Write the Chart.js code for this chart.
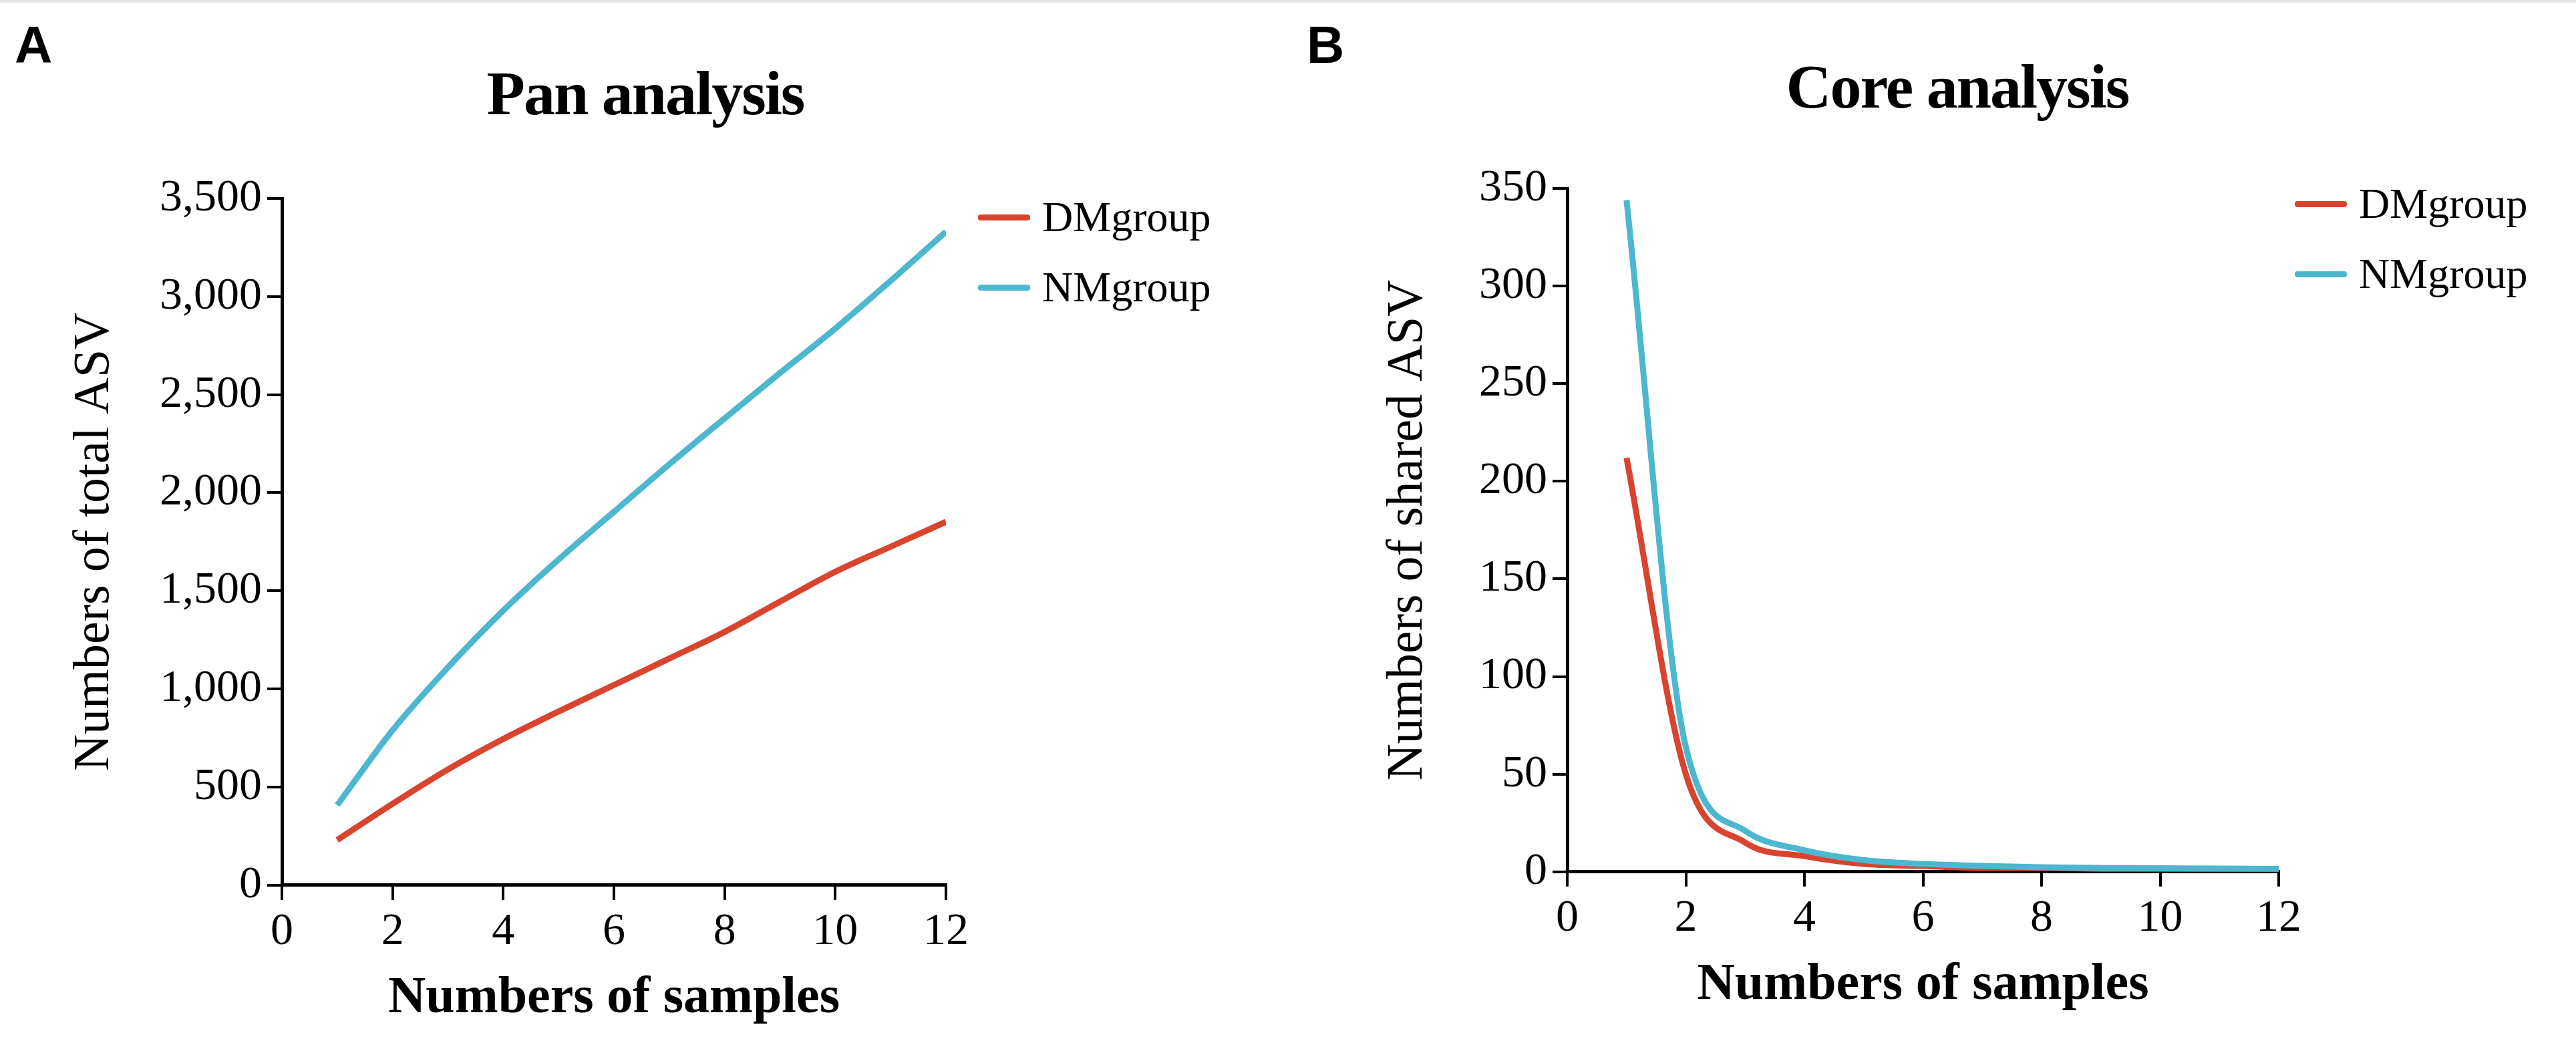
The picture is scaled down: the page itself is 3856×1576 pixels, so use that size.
<!DOCTYPE html>
<html><head><meta charset="utf-8">
<script src="https://cdn.jsdelivr.net/npm/chart.js@4"></script>
<style>
body{margin:0;background:#fff;width:3856px;height:1576px;position:relative;overflow:hidden;font-family:'Liberation Serif',serif}
.box{position:absolute;top:0;width:1928px;height:1576px}
.lab{position:absolute;font-family:'Liberation Sans',Arial,sans-serif;font-weight:bold;font-size:78px;top:22px}
.ttl{position:absolute;font-size:94px;font-weight:bold;transform:translateX(-50%);white-space:nowrap;letter-spacing:-2px}
.leg{position:absolute;font-size:64px;display:flex;align-items:center;white-space:nowrap}
.leg span{display:inline-block;width:78px;height:9px;margin-right:18px;border-radius:4px}
.topline{position:absolute;left:0;top:0;width:3856px;height:4px;background:#e4e4e4}
</style></head><body>
<div class="topline"></div>
<div class="box" style="left:0"><canvas id="c1" width="1928" height="1576"></canvas></div>
<div class="box" style="left:1928px"><canvas id="c2" width="1928" height="1576"></canvas></div>
<div class="lab" style="left:22px">A</div>
<div class="lab" style="left:1956px">B</div>
<div class="ttl" style="left:966px;top:85px">Pan analysis</div>
<div class="ttl" style="left:2930px;top:75px">Core analysis</div>
<div class="leg" style="left:1464px;top:288px"><span style="background:#d9442f"></span>DMgroup</div>
<div class="leg" style="left:1464px;top:393px"><span style="background:#4cb7cf"></span>NMgroup</div>
<div class="leg" style="left:3435px;top:268px"><span style="background:#d9442f"></span>DMgroup</div>
<div class="leg" style="left:3435px;top:373px"><span style="background:#4cb7cf"></span>NMgroup</div>
<script>
const samples=[1,2,3,4,5,6,7,8,9,10,11,12];
const panDM=[230,415,590,745,885,1020,1155,1291,1445,1597,1725,1852];
const panNM=[408,790,1110,1400,1660,1903,2145,2379,2610,2837,3080,3330];
const coreDM=[212,50,15,8,4,3,2,2,1.5,1.3,1.2,1];
const coreNM=[344,64,21,11,6,4,3,2.3,2,1.8,1.6,1.5];
const RED='#d9442f', BLUE='#4cb7cf';
const F='Liberation Serif';
function mk(id,dm,nm,ymax,ystep,ytitle,yw,pad){
  const pts=a=>a.map((v,i)=>({x:samples[i],y:v}));
  new Chart(document.getElementById(id),{type:'line',
    data:{datasets:[
      {label:'NMgroup',data:pts(nm),borderColor:BLUE,borderWidth:9,pointRadius:0,cubicInterpolationMode:'monotone'},
      {label:'DMgroup',data:pts(dm),borderColor:RED,borderWidth:9,pointRadius:0,cubicInterpolationMode:'monotone'}]},
    options:{responsive:false,animation:false,
      layout:{padding:pad},
      plugins:{legend:{display:false},tooltip:{enabled:false}},
      scales:{
        x:{type:'linear',min:0,max:12,
          ticks:{stepSize:2,color:'#000',font:{family:F,size:68},padding:8},
          grid:{drawOnChartArea:false,color:'#000',lineWidth:4,tickLength:22},
          border:{color:'#000',width:5},
          title:{display:true,text:'Numbers of samples',color:'#000',font:{family:F,size:78,weight:'bold'},padding:{top:4}}},
        y:{min:0,max:ymax,
          afterFit:s=>{s.width=yw;},
          ticks:{stepSize:ystep,color:'#000',font:{family:F,size:68},padding:8,callback:v=>v.toLocaleString('en-US')},
          grid:{drawOnChartArea:false,color:'#000',lineWidth:4,tickLength:22},
          border:{color:'#000',width:5},
          title:{display:true,text:ytitle,color:'#000',font:{family:F,size:76},padding:{bottom:6}}}}}});
}
mk('c1',panDM,panNM,3500,500,'Numbers of total ASV',330,{left:92,top:297,right:512,bottom:30});
mk('c2',coreDM,coreNM,350,50,'Numbers of shared ASV',288,{left:130,top:282,right:445,bottom:50});
</script></body></html>
